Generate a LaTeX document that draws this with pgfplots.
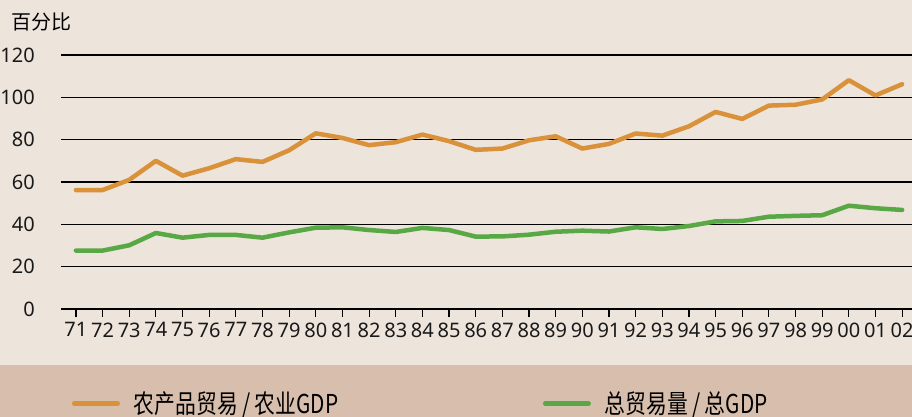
\documentclass[border=0pt]{standalone}
\usepackage{pgfplots}
\pgfplotsset{compat=1.18}
\usepackage{fontspec}
\setmainfont{Noto Sans}
\newfontfamily\cjk{Noto Sans CJK SC}
\newfontfamily\cjkcond[FakeStretch=0.8]{Noto Sans CJK SC}
\definecolor{bg}{HTML}{EDE4DC}
\definecolor{band}{HTML}{D8BFAD}
\definecolor{orng}{HTML}{D9913A}
\definecolor{grn}{HTML}{58A945}
\pgfplotstableread{
x y
0 56.2
1 56.2
2 61.0
3 70.0
4 63.0
5 66.5
6 70.8
7 69.5
8 75.0
9 83.0
10 80.8
11 77.4
12 78.8
13 82.4
14 79.3
15 75.2
16 75.8
17 79.7
18 81.6
19 75.8
20 78.0
21 82.9
22 81.9
23 86.3
24 93.1
25 89.8
26 96.1
27 96.5
28 99.0
29 108.1
30 100.9
31 106.2
}\agri
\pgfplotstableread{
x y
0 27.6
1 27.6
2 30.1
3 35.9
4 33.7
5 35.0
6 35.0
7 33.7
8 36.2
9 38.4
10 38.6
11 37.3
12 36.4
13 38.3
14 37.3
15 34.2
16 34.3
17 35.1
18 36.5
19 37.0
20 36.6
21 38.6
22 37.8
23 39.2
24 41.4
25 41.6
26 43.6
27 44.0
28 44.3
29 48.8
30 47.6
31 46.8
}\total
\begin{document}
\begin{tikzpicture}[x=1pt,y=1pt]
\useasboundingbox (0,0) rectangle (912,417);
\fill[bg] (0,0) rectangle (912,417);
\fill[band] (0,0) rectangle (912,52);
\node[anchor=west, inner sep=0pt, font=\cjk\fontsize{20}{20}\selectfont] at (11,395) {百分比};
\begin{axis}[
  at={(61pt,108pt)}, anchor=south west,
  scale only axis, width=851pt, height=254pt,
  xmin=-0.56, xmax=31.37, ymin=0, ymax=120,
  axis x line*=bottom, axis y line*=left,
  x axis line style={-, black, line width=1.2pt},
  y axis line style={draw=none},
  ytick={0,20,...,120}, ymajorgrids,
  grid style={black, line width=1.1pt},
  ytick style={draw=none},
  xtick={0,...,31},
  xticklabels={71,72,73,74,75,76,77,78,79,80,81,82,83,84,85,86,87,88,89,90,91,92,93,94,95,96,97,98,99,00,01,02},
  tick align=outside,
  xtick style={black, line width=1.2pt},
  major tick length=8pt,
  /pgf/number format/assume math mode=true,
  ticklabel style={font=\fontsize{20}{20}\selectfont, text=black!90},
  xticklabel style={yshift=-2pt},
  yticklabel style={anchor=east, inner sep=0pt, xshift=-18pt},
  legend style={draw=none, fill=none, inner sep=0pt, outer sep=0pt,
    at={(0.0129,-0.372)}, anchor=west, legend columns=2,
    font=\cjkcond\fontsize{26}{26}\selectfont,
    nodes={inner sep=0pt, text width=200pt, align=left},
    /tikz/every odd column/.append style={column sep=14pt},
    /tikz/every even column/.append style={column sep=209pt}},
  legend image code/.code={\draw[#1] (2.25pt,0pt) -- (45.75pt,0pt);},
]
\addplot[orng, line width=4.5pt, line join=round, line cap=round] table[x=x,y=y] {\agri};
\addlegendentry{农产品贸易\,/\,农业GDP}
\addplot[grn, line width=4.5pt, line join=round, line cap=round] table[x=x,y=y] {\total};
\addlegendentry{总贸易量\,/\,总GDP}
\end{axis}
\end{tikzpicture}
\end{document}
